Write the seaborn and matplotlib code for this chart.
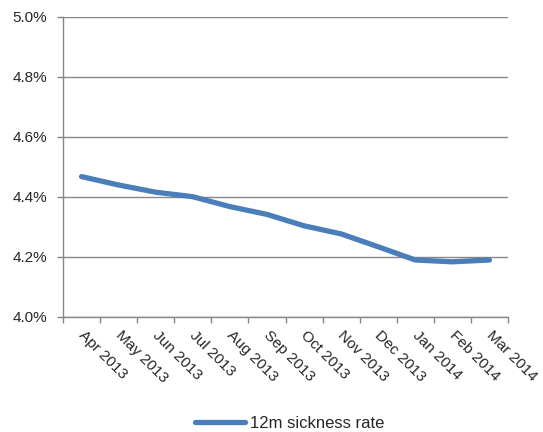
import matplotlib
matplotlib.use("Agg")
import matplotlib.pyplot as plt
import matplotlib.transforms as mtransforms
import seaborn as sns
import pandas as pd
import numpy as np
from matplotlib.ticker import FuncFormatter, FixedLocator

months = ["Apr 2013", "May 2013", "Jun 2013", "Jul 2013", "Aug 2013", "Sep 2013",
          "Oct 2013", "Nov 2013", "Dec 2013", "Jan 2014", "Feb 2014", "Mar 2014"]
sickness_rate = [4.468, 4.440, 4.416, 4.401, 4.368, 4.342,
                 4.304, 4.277, 4.234, 4.190, 4.184, 4.190]
y_ticks = [4.0, 4.2, 4.4, 4.6, 4.8, 5.0]

df = pd.DataFrame({"pos": np.arange(len(months)), "rate": sickness_rate,
                   "series": "12m sickness rate"})

sns.set_style("white")
plt.rcParams["font.family"] = ["Liberation Sans", "DejaVu Sans"]

fig = plt.figure(figsize=(5.43, 4.32), dpi=100)
ax = fig.add_axes([63 / 543, 1 - 317 / 432, (508 - 63) / 543, 300 / 432])

line_color = "#4a7ebb"
grid_color = "#878787"
tick_size = 11

sns.lineplot(data=df, x="pos", y="rate", hue="series", palette=[line_color],
             linewidth=3.8, ax=ax, legend=False, solid_capstyle="round",
             solid_joinstyle="round")

ax.set_xlim(-0.5, len(months) - 0.5)
ax.set_ylim(4.0, 5.0)
ax.set_yticks(y_ticks)
ax.yaxis.set_major_formatter(FuncFormatter(lambda v, p: f"{v:.1f}%"))
ax.yaxis.grid(True, color=grid_color, linewidth=1.0)
ax.set_axisbelow(True)

ax.set_xticks(np.arange(len(months)))
ax.set_xticklabels(months, rotation=-45, ha="left", rotation_mode="anchor")
ax.xaxis.set_minor_locator(FixedLocator(np.arange(-0.5, len(months), 1.0)))
ax.tick_params(axis="x", which="major", length=0, pad=8, labelsize=tick_size)
ax.tick_params(axis="x", which="minor", length=4, width=1.0, color=grid_color,
               direction="out", bottom=True)
ax.tick_params(axis="y", which="major", length=4, width=1.0, color=grid_color,
               direction="out", left=True, labelsize=tick_size, pad=7.5)

# nudge the slanted month labels a little to the right
shift = mtransforms.ScaledTranslation(0.04, 0, fig.dpi_scale_trans)
for lab in ax.get_xticklabels():
    lab.set_transform(lab.get_transform() + shift)

for side in ["top", "right"]:
    ax.spines[side].set_visible(False)
for side in ["left", "bottom"]:
    ax.spines[side].set_color(grid_color)
    ax.spines[side].set_linewidth(1.0)

ax.set_xlabel("")
ax.set_ylabel("")

handle = plt.Line2D([], [], color=line_color, linewidth=3.8, solid_capstyle="round")
fig.legend([handle], ["12m sickness rate"], loc="center",
           bbox_to_anchor=(290 / 543, 1 - 423 / 432), frameon=False,
           fontsize=12, handlelength=3.0, handletextpad=0.3)

fig.savefig("out.png", dpi=100)
